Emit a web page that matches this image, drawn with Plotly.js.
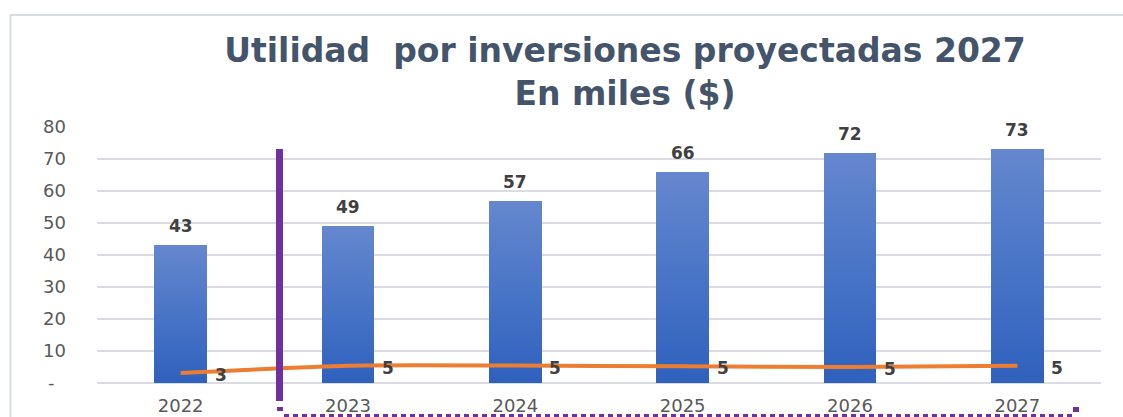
<!DOCTYPE html>
<html>
<head>
<meta charset="utf-8">
<script src="https://cdn.plot.ly/plotly-3.0.1.min.js"></script>
<style>
  html, body { margin: 0; padding: 0; background: #ffffff; }
  #chart { width: 1123px; height: 417px; }
</style>
</head>
<body>
<div id="chart"></div>
<script>
// ---- data ----
const years = ['2022', '2023', '2024', '2025', '2026', '2027'];
const utilidad = [43, 49, 57, 66, 72, 73];
const rendimiento = [3.1, 5.4, 5.45, 5.2, 5.0, 5.4];
const yTickVals = [0, 10, 20, 30, 40, 50, 60, 70, 80];
const yTickText = ['-\u00a0\u00a0', '10', '20', '30', '40', '50', '60', '70', '80'];
const titleText = 'Utilidad  por inversiones proyectadas 2027<br>En miles ($)';

// ---- geometry helpers (pixel -> paper) ----
const W = 1123, H = 417;
const M = { l: 97, r: 22, t: 127, b: 34 };
const PW = W - M.l - M.r, PH = H - M.t - M.b;
const px = x => (x - M.l) / PW;
const py = y => (H - M.b - y) / PH;

const bars = {
  type: 'bar', x: years, y: utilidad, width: 0.315,
  marker: { color: '#4A76C8', line: { width: 0 } },
  hoverinfo: 'skip', showlegend: false
};
const line = {
  type: 'scatter', mode: 'lines', x: years, y: rendimiento,
  line: { color: '#ED7D31', width: 4, shape: 'spline', smoothing: 0.6 },
  hoverinfo: 'skip', showlegend: false
};

const labelFont = { family: 'DejaVu Sans', size: 17, color: '#404040', weight: 'bold' };
const annotations = [];
years.forEach((yr, i) => {
  annotations.push({
    x: i, y: utilidad[i], xref: 'x', yref: 'y', yanchor: 'bottom',
    yshift: 7, showarrow: false, text: String(utilidad[i]), font: labelFont
  });
  annotations.push({
    x: i, y: rendimiento[i], xref: 'x', yref: 'y', yanchor: 'middle',
    xshift: 40, yshift: -2, showarrow: false, text: String(Math.round(rendimiento[i])), font: labelFont
  });
});

const purple = '#7030A0';
const shapes = [
  // outer frame (top & left)
  { type: 'line', xref: 'paper', yref: 'paper', x0: px(10), x1: px(1123), y0: py(15), y1: py(15),
    line: { color: '#D6DCE4', width: 2 } },
  { type: 'line', xref: 'paper', yref: 'paper', x0: px(10.5), x1: px(10.5), y0: py(15), y1: py(417),
    line: { color: '#D6DCE4', width: 2 } },
  // vertical purple divider
  { type: 'line', xref: 'paper', yref: 'paper', x0: px(279.5), x1: px(279.5), y0: py(149), y1: py(401),
    line: { color: purple, width: 7 } },
  // dotted bottom line
  { type: 'line', xref: 'paper', yref: 'paper', x0: px(284), x1: px(1072), y0: py(416), y1: py(416),
    line: { color: purple, width: 4, dash: '5px,4px' } },
  // small corner squares
  { type: 'rect', xref: 'paper', yref: 'paper', x0: px(277), x1: px(283), y0: py(407), y1: py(411),
    fillcolor: purple, line: { width: 0 } },
  { type: 'rect', xref: 'paper', yref: 'paper', x0: px(1073), x1: px(1079), y0: py(407), y1: py(412),
    fillcolor: purple, line: { width: 0 } }
];

const layout = {
  width: W, height: H,
  margin: M,
  paper_bgcolor: '#ffffff', plot_bgcolor: '#ffffff',
  title: {
    text: titleText, x: 625 / W, xanchor: 'center', xref: 'container',
    y: 1 - 62 / H, yanchor: 'top', yref: 'container',
    font: { family: 'DejaVu Sans', size: 33, color: '#44546A', weight: 'bold' }
  },
  bargap: 0,
  xaxis: {
    type: 'category', range: [-0.5, 5.5], showgrid: false, zeroline: false,
    showline: false, ticks: '', fixedrange: true, ticklabelstandoff: 10,
    tickfont: { family: 'DejaVu Sans', size: 18, color: '#595959' }
  },
  yaxis: {
    range: [0, 80], tickvals: yTickVals, ticktext: yTickText,
    showgrid: true, gridcolor: '#D9DDE3', gridwidth: 1.5,
    zeroline: true, zerolinecolor: '#D9DDE3', zerolinewidth: 1.5,
    showline: false, ticks: '', ticklabelstandoff: 30, fixedrange: true,
    tickfont: { family: 'DejaVu Sans', size: 18, color: '#595959' }
  },
  annotations: annotations,
  shapes: shapes
};

Plotly.newPlot('chart', [bars, line], layout, { staticPlot: true, displayModeBar: false }).then(gd => {
  // vertical gradient fill for bars (lighter top, darker bottom)
  const svg = gd.querySelector('svg.main-svg');
  const ns = 'http://www.w3.org/2000/svg';
  let defs = svg.querySelector('defs');
  if (!defs) { defs = document.createElementNS(ns, 'defs'); svg.insertBefore(defs, svg.firstChild); }
  const grad = document.createElementNS(ns, 'linearGradient');
  grad.setAttribute('id', 'barGrad');
  grad.setAttribute('x1', '0'); grad.setAttribute('y1', '0');
  grad.setAttribute('x2', '0'); grad.setAttribute('y2', '1');
  [['0%', '#6587CE'], ['55%', '#4673C6'], ['100%', '#2F61BD']].forEach(([o, c]) => {
    const s = document.createElementNS(ns, 'stop');
    s.setAttribute('offset', o); s.setAttribute('stop-color', c);
    grad.appendChild(s);
  });
  defs.appendChild(grad);
  gd.querySelectorAll('.barlayer .point path').forEach(p => {
    p.style.fill = 'url(#barGrad)';
  });
});
</script>
</body>
</html>
